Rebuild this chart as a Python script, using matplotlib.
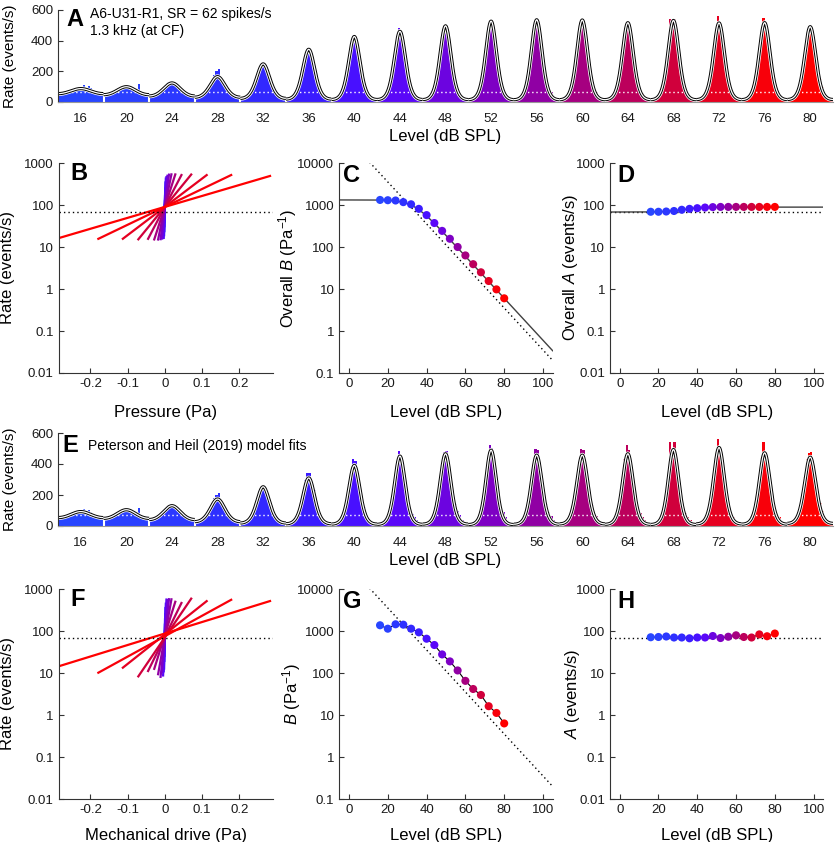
import numpy as np
import matplotlib
matplotlib.use('Agg')
import matplotlib.pyplot as plt
from matplotlib.ticker import FixedLocator, FixedFormatter, NullLocator

plt.rcParams['font.family'] = ['Liberation Sans', 'DejaVu Sans']
plt.rcParams['mathtext.fontset'] = 'custom'
plt.rcParams['mathtext.rm'] = 'Liberation Sans'
plt.rcParams['mathtext.it'] = 'Liberation Sans:italic'

# sound levels (dB SPL)
levels = [16, 20, 24, 28, 32, 36, 40, 44, 48, 52, 56, 60, 64, 68, 72, 76, 80]
colors = ['#2846ff', '#2a40ff', '#2c38ff', '#2e30ff', '#3228ff', '#3a1cff', '#4810ff',
          '#5a08f8', '#6c04e0', '#7e00c4', '#9000a4', '#a60080', '#bc005c', '#d0003c',
          '#e60020', '#f8000a', '#ff0000']

# period histograms, 20 bins per stimulus cycle (events/s)
hist = [
    [58, 52, 60, 63, 66, 75, 72, 80, 92, 84, 88, 108, 80, 104, 90, 70, 74, 58, 62, 50],
    [50, 46, 55, 60, 64, 70, 85, 88, 102, 96, 100, 92, 104, 84, 75, 118, 62, 56, 52, 46],
    [38, 44, 45, 55, 62, 80, 95, 112, 128, 134, 130, 120, 118, 96, 82, 66, 52, 48, 42, 40],
    [30, 32, 38, 52, 64, 85, 112, 150, 178, 200, 215, 160, 135, 104, 80, 62, 48, 40, 35, 30],
    [22, 25, 32, 44, 62, 95, 135, 180, 225, 250, 255, 222, 180, 140, 98, 66, 46, 34, 28, 24],
    [18, 20, 28, 40, 62, 100, 160, 230, 300, 345, 340, 290, 235, 168, 110, 70, 44, 30, 22, 18],
    [16, 18, 26, 40, 62, 105, 175, 270, 365, 435, 420, 362, 275, 190, 120, 72, 46, 30, 22, 17],
    [15, 18, 25, 40, 65, 112, 190, 290, 392, 485, 455, 388, 290, 200, 128, 80, 58, 40, 24, 16],
    [14, 17, 24, 40, 66, 115, 195, 305, 415, 478, 482, 410, 300, 205, 140, 95, 68, 40, 22, 15],
    [14, 17, 24, 38, 66, 118, 205, 318, 440, 520, 505, 425, 320, 210, 138, 90, 60, 35, 22, 15],
    [14, 17, 24, 38, 64, 112, 195, 305, 420, 495, 488, 415, 310, 205, 140, 92, 62, 40, 22, 15],
    [14, 16, 23, 37, 63, 112, 195, 305, 425, 498, 490, 418, 312, 208, 135, 85, 62, 40, 24, 15],
    [15, 17, 24, 38, 64, 115, 198, 310, 430, 525, 488, 415, 305, 200, 130, 85, 58, 36, 22, 15],
    [15, 17, 24, 38, 64, 115, 200, 320, 540, 480, 540, 420, 305, 205, 130, 85, 60, 40, 24, 15],
    [16, 18, 25, 40, 66, 118, 205, 320, 440, 560, 470, 420, 310, 200, 132, 84, 55, 35, 22, 16],
    [16, 18, 25, 40, 66, 118, 205, 318, 440, 545, 480, 415, 300, 200, 128, 82, 55, 34, 22, 16],
    [16, 18, 25, 40, 66, 116, 200, 315, 430, 470, 480, 400, 330, 225, 150, 95, 60, 38, 24, 16],
]

# overall fits (panels C, D)
overall_B = [1320, 1300, 1280, 1170, 1040, 810, 575, 372, 242, 157, 100, 63, 39, 25, 15.5, 9.8, 6.0]
overall_A = [69, 69, 70, 72, 77, 81, 84, 87, 89, 90, 90, 90, 90, 90, 90, 90, 90]
# Peterson and Heil (2019) model fits (panels G, H)
ph_B = [1370, 1135, 1445, 1415, 1135, 930, 655, 464, 277, 189, 115, 65, 41.6, 30, 16.2, 11.2, 6.3]
ph_A = [71, 72, 74, 70, 70, 67, 70, 70, 76, 68, 73, 79, 72, 70, 83, 75, 87]
ph_peak = [93, 105, 131, 174, 253, 310, 391, 451, 466, 489, 457, 457, 466, 493, 506, 472, 444]

sr_line = 68
fit_B0, fit_Pc = 1320, 1.29e-3
fit_Alow, fit_Ahigh = 68, 89

lv = np.array(levels, dtype=float)
p_amp = np.sqrt(2) * 20e-6 * 10 ** (lv / 20)


def rect(l, t, r, b):
    return [l / 837, 1 - b / 842, (r - l) / 837, (b - t) / 842]


def style(ax):
    for s in ['top', 'right']:
        ax.spines[s].set_visible(False)
    for s in ['left', 'bottom']:
        ax.spines[s].set_color('0.2')
        ax.spines[s].set_linewidth(0.8)
    ax.tick_params(direction='in', length=3.5, width=0.8, color='0.2',
                   labelcolor='0.1', labelsize=9.5)


def log_y(ax, lo, hi):
    ax.set_yscale('log')
    ax.set_ylim(lo, hi)
    vals = [10.0 ** e for e in range(int(np.log10(lo)), int(np.log10(hi)) + 1)]
    ax.yaxis.set_major_locator(FixedLocator(vals))
    ax.yaxis.set_major_formatter(FixedFormatter(['%g' % v for v in vals]))
    ax.yaxis.set_minor_locator(NullLocator())


def period_panel(ax, fit_A, fit_k):
    nb = len(hist[0])
    for j in range(len(levels)):
        edges = j + np.linspace(0, 1, nb + 1)
        ax.stairs(hist[j], edges, fill=True, color=colors[j], lw=0)
        ax.plot([j + 0.03, j + 0.97], [sr_line, sr_line], color='white', lw=1, ls=(0, (1, 2)))
    for j in range(1, len(levels)):
        ax.axvline(j, color='white', lw=1.5)
    ph = np.linspace(0, 1, 200)
    for j in range(len(levels)):
        y = fit_A[j] * np.exp(fit_k[j] * np.cos(2 * np.pi * (ph - 0.5)))
        ax.plot(j + ph, y, color='white', lw=3.4, solid_capstyle='butt')
        ax.plot(j + ph, y, color='black', lw=2.3, solid_capstyle='butt')
        ax.plot(j + ph, y, color='white', lw=0.9, solid_capstyle='butt')
    ax.set_xlim(0, len(levels))
    ax.set_ylim(0, 600)
    ax.set_yticks([0, 200, 400, 600])
    ax.set_xticks(np.arange(len(levels)) + 0.5)
    ax.set_xticklabels([str(l) for l in levels])
    style(ax)
    ax.tick_params(axis='x', length=0, pad=8)
    ax.spines['bottom'].set_color('0.6')
    ax.set_ylabel('Rate (events/s)', fontsize=11)
    ax.yaxis.set_label_coords(-0.053, 0.5)
    ax.set_xlabel('Level (dB SPL)', fontsize=12)
    ax.xaxis.set_label_coords(0.5, -0.29)


def drive_panel(ax, A, B, xlabel):
    for j in range(len(levels)):
        p = np.linspace(-p_amp[j], p_amp[j], 60)
        ax.plot(p, A[j] * np.exp(B[j] * p), color=colors[j], lw=1.6)
    ax.axhline(sr_line, color='black', lw=1, ls=(0, (1, 2.2)))
    ax.set_xlim(-0.285, 0.29)
    log_y(ax, 0.01, 1000)
    ax.set_xticks([-0.2, -0.1, 0, 0.1, 0.2])
    ax.set_xticklabels(['-0.2', '-0.1', '0', '0.1', '0.2'])
    style(ax)
    ax.set_ylabel('Rate (events/s)', fontsize=12)
    ax.yaxis.set_label_coords(-0.205, 0.5)
    ax.set_xlabel(xlabel, fontsize=12)


def level_panel(ax, vals, ylabel, lo, hi, labx):
    ax.scatter(levels, vals, c=colors, s=34, zorder=3, linewidths=0)
    ax.set_xlim(-5, 105)
    log_y(ax, lo, hi)
    ax.set_xticks([0, 20, 40, 60, 80, 100])
    style(ax)
    ax.set_ylabel(ylabel, fontsize=12)
    ax.yaxis.set_label_coords(labx, 0.5)
    ax.set_xlabel('Level (dB SPL)', fontsize=12)


fig = plt.figure(figsize=(8.37, 8.42), dpi=100)

axA = fig.add_axes(rect(58, 10, 833, 102))
period_panel(axA, overall_A, np.array(overall_B) * p_amp)

axE = fig.add_axes(rect(58, 433, 833, 526))
period_panel(axE, ph_A, np.log(np.array(ph_peak) / np.array(ph_A)))

axB = fig.add_axes(rect(58.7, 163, 272.7, 373))
drive_panel(axB, overall_A, overall_B, 'Pressure (Pa)')

axF = fig.add_axes(rect(58.7, 589, 272.7, 799))
drive_panel(axF, ph_A, ph_B, 'Mechanical drive (Pa)')

Lf = np.linspace(-5, 105, 300)
Pf = np.sqrt(2) * 20e-6 * 10 ** (Lf / 20)

axC = fig.add_axes(rect(339.3, 163, 552.7, 373))
axC.plot(Lf, fit_B0 / np.sqrt(1 + (Pf / fit_Pc) ** 2), color='0.25', lw=1)
axC.plot(Lf, 1 / Pf, color='black', lw=1, ls=(0, (1, 2.2)))
level_panel(axC, overall_B, r'Overall $B$ (Pa$^{-1}$)', 0.1, 10000, -0.19)

axD = fig.add_axes(rect(610, 163, 823.3, 373))
axD.axhline(sr_line, color='black', lw=1, ls=(0, (1, 2.2)))
r2 = (Pf / fit_Pc) ** 2
axD.plot(Lf, fit_Alow + (fit_Ahigh - fit_Alow) * r2 / (1 + r2), color='0.25', lw=1)
level_panel(axD, overall_A, r'Overall $A$ (events/s)', 0.01, 1000, -0.14)

axG = fig.add_axes(rect(339.3, 589, 552.7, 799))
axG.plot(Lf, 1 / Pf, color='black', lw=1, ls=(0, (1, 2.2)))
axG.plot(levels, ph_B, color='black', lw=0.8)
level_panel(axG, ph_B, r'$B$ (Pa$^{-1}$)', 0.1, 10000, -0.17)

axH = fig.add_axes(rect(610, 589, 823.3, 799))
axH.axhline(sr_line, color='black', lw=1, ls=(0, (1, 2.2)))
axH.plot(levels, ph_A, color='black', lw=0.8)
level_panel(axH, ph_A, r'$A$ (events/s)', 0.01, 1000, -0.13)

for ax in [axB, axC, axD]:
    ax.xaxis.set_label_coords(0.5, -0.15)
for ax in [axF, axG, axH]:
    ax.xaxis.set_label_coords(0.5, -0.14)

# panel letters
letters = [('A', 66, 20), ('B', 70, 174), ('C', 343, 175), ('D', 617, 175),
           ('E', 62, 446), ('F', 70, 600), ('G', 343, 601), ('H', 617, 602)]
for t, x, y in letters:
    fig.text(x / 837, 1 - y / 842, t, fontsize=17, fontweight='bold', ha='left', va='center')

fig.text(90 / 837, 1 - 14 / 842, 'A6-U31-R1, SR = 62 spikes/s', fontsize=10, va='center')
fig.text(90 / 837, 1 - 31 / 842, '1.3 kHz (at CF)', fontsize=10, va='center')
fig.text(88 / 837, 1 - 446 / 842, 'Peterson and Heil (2019) model fits', fontsize=10, va='center')

fig.savefig('out.png', dpi=100)
